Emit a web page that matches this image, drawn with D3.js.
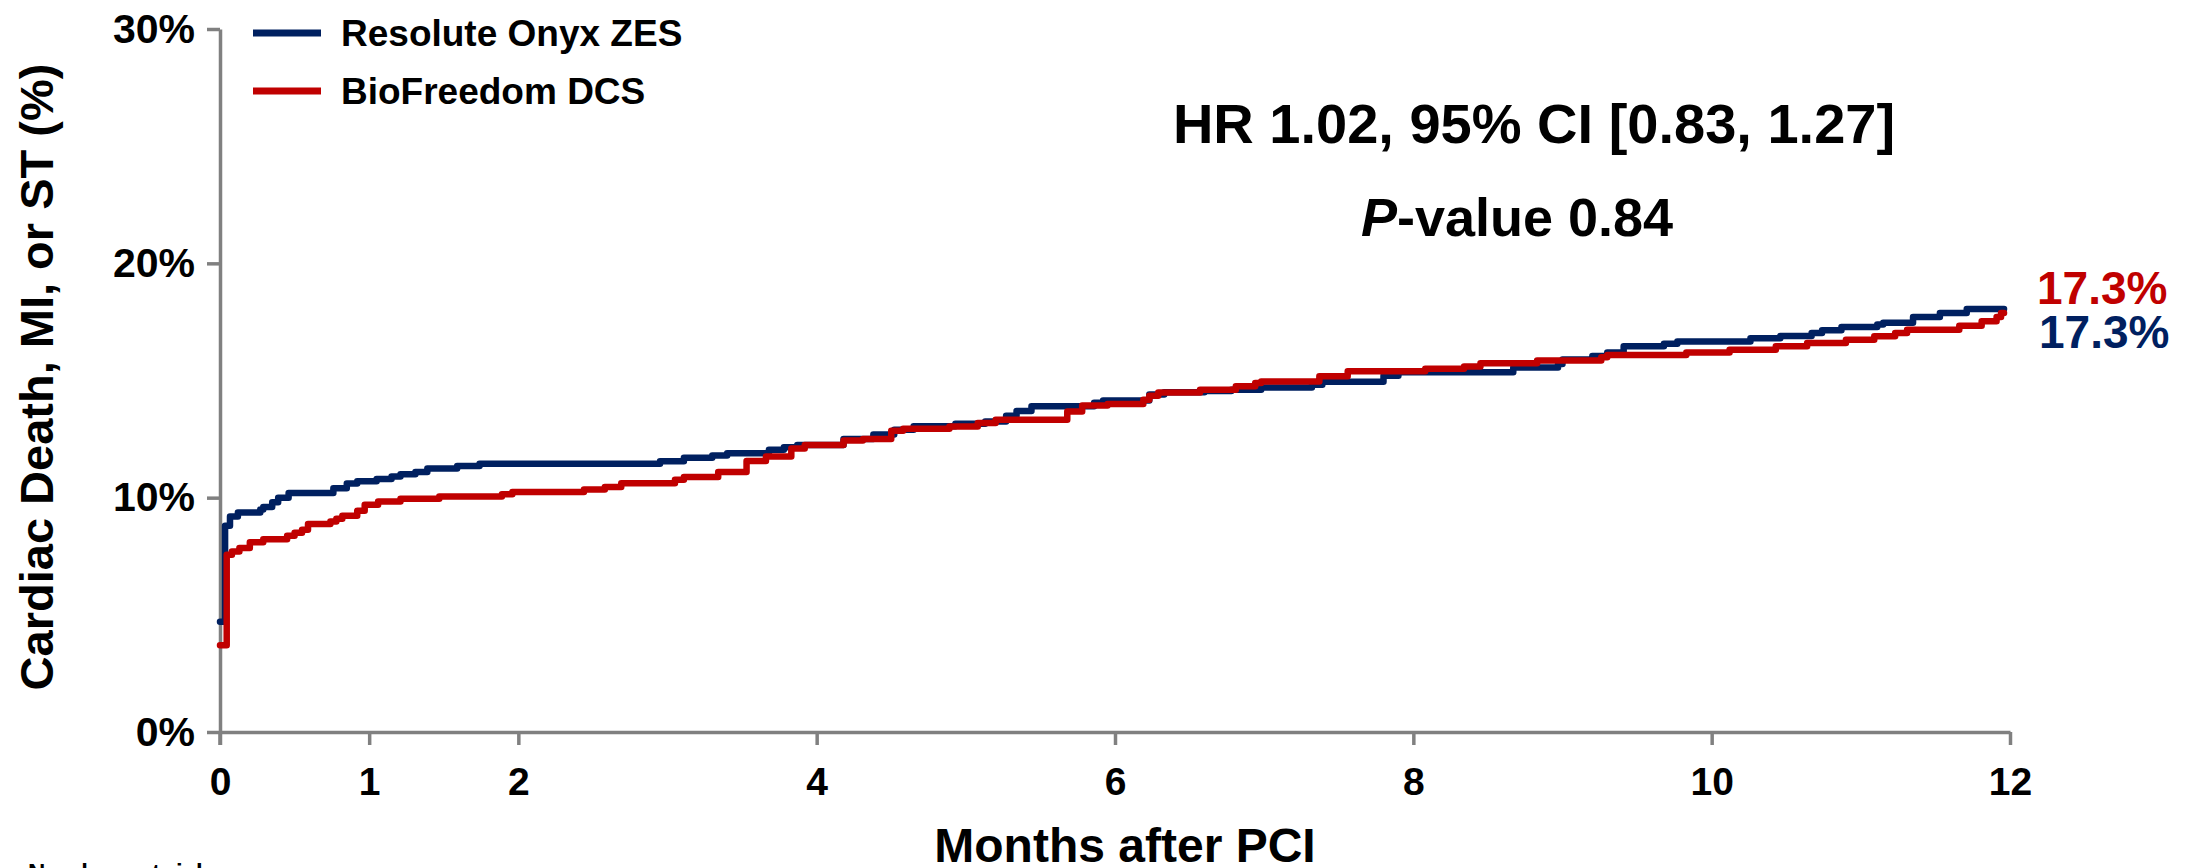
<!DOCTYPE html>
<html>
<head>
<meta charset="utf-8">
<script src="https://cdn.jsdelivr.net/npm/d3@7"></script>
<style>
  html, body { margin: 0; padding: 0; background: #ffffff; }
  svg { display: block; }
  text { font-family: "Liberation Sans", Arial, Helvetica, sans-serif; font-weight: bold; }
</style>
</head>
<body>
<svg id="chart" width="2197" height="868"></svg>
<script>
// ---------------- data ----------------
const seriesNames = ["Resolute Onyx ZES", "BioFreedom DCS"];
const seriesColors = ["#002060", "#C00000"];
const endLabels = ["17.3%", "17.3%"];

const xTickValues = [0, 1, 2, 4, 6, 8, 10, 12];
const yTickValues = [0, 10, 20, 30];

// Resolute Onyx ZES: month, cumulative incidence (%)
const onyxMonths = [0, 0.034, 0.067, 0.12, 0.27, 0.29, 0.35, 0.39, 0.46, 0.76, 0.85, 0.92, 1.05, 1.15, 1.21, 1.31, 1.39, 1.59, 1.74,
  2.95, 3.11, 3.30, 3.40, 3.68, 3.78, 3.87, 4.18, 4.38, 4.52, 4.65, 4.93, 5.13, 5.27, 5.34, 5.44, 5.86, 5.92, 6.23, 6.33, 6.60,
  6.78, 6.98, 7.32, 7.39, 7.80, 7.90, 8.67, 8.97, 9.00, 9.20, 9.30, 9.41, 9.68, 9.77, 10.26, 10.46, 10.67, 10.74, 10.87, 11.11,
  11.15, 11.35, 11.53, 11.71, 11.96];
const onyxRisk = [4.7, 8.8, 9.2, 9.37, 9.5, 9.6, 9.8, 10.0, 10.2, 10.4, 10.6, 10.7, 10.8, 10.9, 11.0, 11.1, 11.25, 11.35, 11.45,
  11.55, 11.7, 11.8, 11.9, 12.05, 12.15, 12.25, 12.5, 12.7, 12.9, 13.05, 13.15, 13.25, 13.5, 13.7, 13.9, 14.05, 14.15, 14.4, 14.5, 14.55,
  14.6, 14.7, 14.82, 14.95, 15.2, 15.35, 15.55, 15.7, 15.9, 16.05, 16.2, 16.46, 16.57, 16.66, 16.8, 16.9, 17.03, 17.14, 17.28, 17.39,
  17.46, 17.71, 17.88, 18.05, 18.05];

// BioFreedom DCS: month, cumulative incidence (%)
const bioMonths = [0, 0.045, 0.08, 0.13, 0.20, 0.29, 0.45, 0.50, 0.55, 0.59, 0.74, 0.78, 0.82, 0.92, 0.97, 1.06, 1.21, 1.47, 1.89,
  1.96, 2.44, 2.58, 2.69, 3.05, 3.11, 3.34, 3.53, 3.66, 3.83, 3.92, 4.18, 4.31, 4.50, 4.58, 4.89, 5.08, 5.20, 5.68, 5.78, 5.95,
  6.19, 6.23, 6.29, 6.57, 6.81, 6.94, 6.98, 7.37, 7.56, 8.08, 8.34, 8.45, 8.83, 9.26, 9.30, 9.83, 10.12, 10.43, 10.64, 10.90,
  11.09, 11.23, 11.31, 11.66, 11.81, 11.91, 11.94, 11.96];
const bioRisk = [3.7, 7.56, 7.7, 7.85, 8.1, 8.23, 8.37, 8.5, 8.63, 8.88, 8.98, 9.1, 9.23, 9.44, 9.7, 9.84, 9.95, 10.05, 10.15,
  10.24, 10.35, 10.45, 10.62, 10.76, 10.88, 11.1, 11.56, 11.76, 12.1, 12.25, 12.44, 12.5, 12.86, 12.94, 13.04, 13.19, 13.33, 13.68, 13.93, 14.0,
  14.18, 14.35, 14.49, 14.61, 14.75, 14.89, 14.96, 15.18, 15.39, 15.5, 15.6, 15.74, 15.85, 15.99, 16.09, 16.2, 16.31, 16.46, 16.6, 16.74,
  16.89, 17.03, 17.17, 17.34, 17.53, 17.71, 17.88, 17.88];

const xTitle = "Months after PCI";
const yTitle = "Cardiac Death, MI, or ST (%)";
const hrText = "HR 1.02, 95% CI [0.83, 1.27]";
const pItalic = "P";
const pRest = "-value 0.84";
const footText = "Numbers at risk";

// ---------------- drawing ----------------
const svg = d3.select("#chart");
svg.append("rect").attr("width", 2197).attr("height", 868).attr("fill", "#ffffff");

const x = d3.scaleLinear().domain([0, 12]).range([220, 2010]);
const y = d3.scaleLinear().domain([0, 30]).range([732, 29]);

const axisColor = "#808080";

// Y axis
const yAxis = svg.append("g").attr("transform", `translate(${x(0)},0)`)
  .call(d3.axisLeft(y).tickValues(yTickValues).tickSize(13).tickSizeOuter(0).tickPadding(12)
    .tickFormat(d => d + "%"));
// X axis
const xAxis = svg.append("g").attr("transform", `translate(0,${y(0)})`)
  .call(d3.axisBottom(x).tickValues(xTickValues).tickSize(13).tickSizeOuter(0).tickPadding(22)
    .tickFormat(d3.format("d")));

[yAxis, xAxis].forEach(g => {
  g.select(".domain").attr("stroke", axisColor).attr("stroke-width", 3.5);
  g.selectAll(".tick line").attr("stroke", axisColor).attr("stroke-width", 3.5);
  g.selectAll(".tick text").attr("fill", "#000").style("font-family", '"Liberation Sans", Arial, sans-serif')
    .style("font-weight", "bold");
});
yAxis.selectAll(".tick text").style("font-size", "41px");
xAxis.selectAll(".tick text").style("font-size", "39px");
// y axis continues down to the length of the x-axis ticks
yAxis.append("line").attr("x1", 0).attr("x2", 0).attr("y1", y(0)).attr("y2", y(0) + 13)
  .attr("stroke", axisColor).attr("stroke-width", 3.5);

// curves
const series = [
  { months: onyxMonths, risk: onyxRisk },
  { months: bioMonths, risk: bioRisk }
];
const line = d3.line()
  .x(d => x(d[0]))
  .y(d => y(d[1]))
  .curve(d3.curveStepAfter);

series.forEach((s, i) => {
  const pts = s.months.map((m, j) => [m, s.risk[j]]);
  svg.append("path")
    .attr("d", line(pts))
    .attr("fill", "none")
    .attr("stroke", seriesColors[i])
    .attr("stroke-width", 6.5)
    .attr("stroke-linejoin", "round")
    .attr("stroke-linecap", "round");
});

// legend
const legendY = [33, 91];
seriesNames.forEach((name, i) => {
  svg.append("line").attr("x1", 253).attr("x2", 321).attr("y1", legendY[i]).attr("y2", legendY[i])
    .attr("stroke", seriesColors[i]).attr("stroke-width", 7);
  svg.append("text").attr("x", 341).attr("y", legendY[i] + 13).attr("font-size", 37).attr("fill", "#000").text(name);
});

// annotations
svg.append("text").attr("x", 1534).attr("y", 143).attr("text-anchor", "middle")
  .attr("font-size", 56).attr("fill", "#000").text(hrText);
const pt = svg.append("text").attr("x", 1517).attr("y", 236).attr("text-anchor", "middle")
  .attr("font-size", 54).attr("fill", "#000");
pt.append("tspan").style("font-style", "italic").text(pItalic);
pt.append("tspan").text(pRest);

// end labels
svg.append("text").attr("x", 2037).attr("y", 304).attr("font-size", 46).attr("fill", seriesColors[1]).text(endLabels[1]);
svg.append("text").attr("x", 2039).attr("y", 348).attr("font-size", 46).attr("fill", seriesColors[0]).text(endLabels[0]);

// axis titles
svg.append("text").attr("x", 1125).attr("y", 862).attr("text-anchor", "middle")
  .attr("font-size", 48).attr("fill", "#000").text(xTitle);
svg.append("text").attr("transform", "translate(53,377) rotate(-90)").attr("text-anchor", "middle")
  .attr("font-size", 47).attr("fill", "#000").text(yTitle);

// partially visible footer (cut by the bottom edge, as in the reference)
svg.append("text").attr("x", 28).attr("y", 881).attr("font-size", 24).attr("fill", "#000").text(footText);
</script>
</body>
</html>
